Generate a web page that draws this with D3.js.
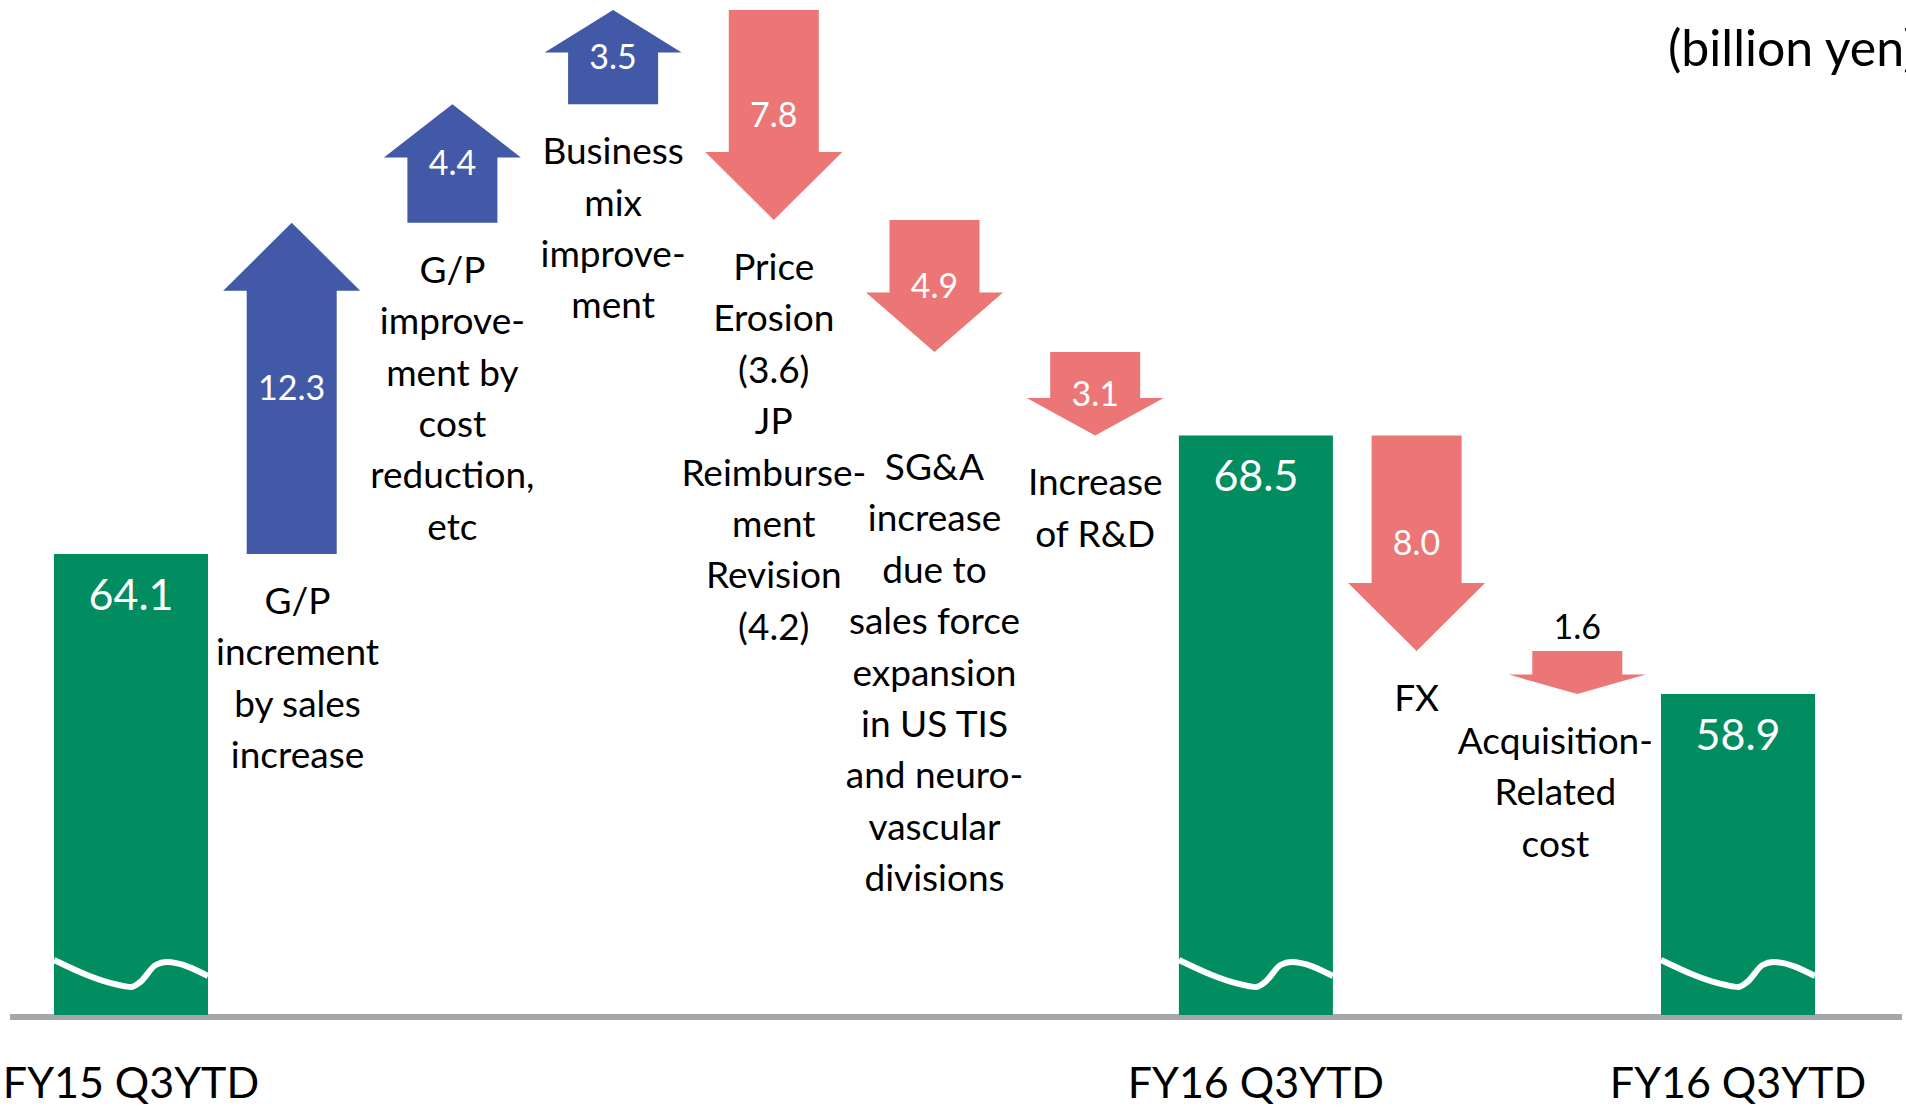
<!DOCTYPE html>
<html lang="en">
<head>
<meta charset="UTF-8">
<title>Operating income bridge</title>
<script src="https://d3js.org/d3.v7.min.js"></script>
<style>
  html, body { margin: 0; padding: 0; background: #fff; }
  svg { display: block; font-family: Lato, "Open Sans", sans-serif; }
</style>
</head>
<body>
<svg id="chart" width="1906" height="1107"></svg>
<script>
// billion yen
var steps  = ["start", "gpSales", "gpCost", "mix", "price", "sga", "rnd", "mid", "fx", "acq", "end"];
var kinds  = ["total", "up", "up", "up", "down", "down", "down", "total", "down", "down", "total"];
var values = [64.1, 12.3, 4.4, 3.5, 7.8, 4.9, 3.1, 68.5, 8.0, 1.6, 58.9];
var totalNames = ["FY15 Q3YTD", "", "", "", "", "", "", "FY16 Q3YTD", "", "", "FY16 Q3YTD"];
var stepLabels = [
  [],
  ["G/P", "increment", "by sales", "increase"],
  ["G/P", "improve-", "ment by", "cost", "reduction,", "etc"],
  ["Business", "mix", "improve-", "ment"],
  ["Price", "Erosion", "(3.6)", "JP", "Reimburse-", "ment", "Revision", "(4.2)"],
  ["SG&A", "increase", "due to", "sales force", "expansion", "in US TIS", "and neuro-", "vascular", "divisions"],
  ["Increase", "of R&D"],
  [],
  ["FX"],
  ["Acquisition-", "Related", "cost"],
  []
];
var unitLabel = "(billion yen)";

var colors = { total: "#028d60", up: "#4259a7", down: "#ec7575" };

var width = 1906, height = 1107;
var baseY = 1017;          // broken axis baseline
var barW = 154, shaftW = 90, headW = 137, headLen = 68;

// running level for the waterfall
var level = 0;
var items = steps.map(function(id, i) {
  var k = kinds[i], v = values[i], from = null, to;
  if (k === "total") { to = v; }
  else if (k === "up") { from = level; to = level + v; }
  else { from = level; to = level - v; }
  level = to;
  return { id: id, kind: k, value: v, from: from, to: to, lines: stepLabels[i], name: totalNames[i] };
});

var x = d3.scalePoint().domain(steps).range([131, 1738]);
var allLevels = items.flatMap(function(d) { return d.from == null ? [d.to] : [d.from, d.to]; });
var y = d3.scaleLinear().domain(d3.extent(allLevels)).range([694, 10]);

var svg = d3.select("#chart");

// baseline
svg.append("line")
  .attr("x1", 10).attr("x2", 1902)
  .attr("y1", baseY).attr("y2", baseY)
  .attr("stroke", "#a5a7aa").attr("stroke-width", 6);

var totals = items.filter(function(d) { return d.kind === "total"; });
var moves = items.filter(function(d) { return d.kind !== "total"; });

// total bars
svg.append("g").selectAll("rect")
  .data(totals)
  .join("rect")
  .attr("x", function(d) { return x(d.id) - barW / 2; })
  .attr("y", function(d) { return y(d.to); })
  .attr("width", barW)
  .attr("height", function(d) { return baseY - 2 - y(d.to); })
  .attr("fill", colors.total);

// axis break squiggle
var wave = [[0, -57], [0.42, -32], [0.5, -30], [0.56, -35], [0.66, -52], [0.73, -55], [1, -41]];
var waveLine = d3.line().curve(d3.curveMonotoneX);
svg.append("g").selectAll("path")
  .data(totals)
  .join("path")
  .attr("d", function(d) {
    var x0 = x(d.id) - barW / 2;
    return waveLine(wave.map(function(p) { return [x0 + p[0] * barW, baseY + p[1]]; }));
  })
  .attr("fill", "none")
  .attr("stroke", "#fff")
  .attr("stroke-width", 6);

svg.append("g").selectAll("text")
  .data(totals)
  .join("text")
  .attr("x", function(d) { return x(d.id); })
  .attr("y", function(d) { return y(d.to) + 56; })
  .attr("text-anchor", "middle")
  .attr("fill", "#fff")
  .attr("font-size", 43)
  .text(function(d) { return d.value.toFixed(1); });

// category names under the totals
svg.append("g").selectAll("text")
  .data(totals)
  .join("text")
  .attr("x", function(d) { return x(d.id); })
  .attr("y", 1098)
  .attr("text-anchor", "middle")
  .attr("fill", "#000")
  .attr("font-size", 43)
  .text(function(d) { return d.name; });

function arrowPath(cx, y0, y1) {
  var dir = y1 < y0 ? -1 : 1;
  var len = Math.abs(y1 - y0);
  var head = Math.min(headLen, len * 0.45);
  var yh = y1 - dir * head;
  var p = d3.path();
  p.moveTo(cx - shaftW / 2, y0);
  p.lineTo(cx - shaftW / 2, yh);
  p.lineTo(cx - headW / 2, yh);
  p.lineTo(cx, y1);
  p.lineTo(cx + headW / 2, yh);
  p.lineTo(cx + shaftW / 2, yh);
  p.lineTo(cx + shaftW / 2, y0);
  p.closePath();
  return p.toString();
}

svg.append("g").selectAll("path")
  .data(moves)
  .join("path")
  .attr("d", function(d) { return arrowPath(x(d.id), y(d.from), y(d.to)); })
  .attr("fill", function(d) { return colors[d.kind]; });

// value on the arrow, or above it if the arrow is too short
svg.append("g").selectAll("text")
  .data(moves)
  .join("text")
  .each(function(d) {
    var len = Math.abs(y(d.to) - y(d.from));
    var t = d3.select(this).attr("x", x(d.id)).attr("text-anchor", "middle").attr("font-size", 34);
    if (len < 60) {
      t.attr("y", Math.min(y(d.from), y(d.to)) - 12).attr("fill", "#000");
    } else {
      t.attr("y", (y(d.from) + y(d.to)) / 2).attr("dy", "0.35em").attr("fill", "#fff");
    }
  })
  .text(function(d) { return d.value.toFixed(1); });

// multi-line descriptions under each arrow, nudged so they don't collide
var fs = 37, lh = 51.4, pad = 8;
var placed = [];
var bars = totals.map(function(d) {
  return { x0: x(d.id) - barW / 2, x1: x(d.id) + barW / 2, y0: y(d.to), y1: baseY, cx: x(d.id) };
});
function hit(a, b) {
  return a.x0 < b.x1 + pad && a.x1 + pad > b.x0 && a.y0 < b.y1 + pad && a.y1 + pad > b.y0;
}

var labelG = svg.append("g");
moves.forEach(function(d) {
  var texts = d.lines.map(function(s) {
    return labelG.append("text")
      .attr("text-anchor", "middle")
      .attr("font-size", fs)
      .attr("fill", "#000")
      .text(s);
  });
  var widths = texts.map(function(t) { return t.node().getComputedTextLength(); });
  var cx = x(d.id);
  var top = Math.max(y(d.from), y(d.to)) + 60;

  function boxes() {
    return widths.map(function(w, i) {
      var b = top + i * lh;
      return { x0: cx - w / 2, x1: cx + w / 2, y0: b - 0.72 * fs, y1: b + 0.2 * fs };
    });
  }
  // keep clear of the bars sideways
  bars.forEach(function(bar) {
    boxes().forEach(function(bx, i) {
      if (hit(bx, bar)) {
        var w = widths[i];
        cx = cx < bar.cx ? Math.min(cx, bar.x0 - pad - w / 2) : Math.max(cx, bar.x1 + pad + w / 2);
      }
    });
  });
  // then push down past earlier labels
  var guard = 0;
  while (guard++ < 200 && boxes().some(function(bx) { return placed.some(function(p) { return hit(bx, p); }); })) {
    top += 4;
  }
  boxes().forEach(function(bx) { placed.push(bx); });
  texts.forEach(function(t, i) { t.attr("x", cx).attr("y", top + i * lh); });
});

svg.append("text")
  .attr("x", 1668)
  .attr("y", 66)
  .attr("font-size", 50)
  .attr("fill", "#000")
  .text(unitLabel);
</script>
</body>
</html>
